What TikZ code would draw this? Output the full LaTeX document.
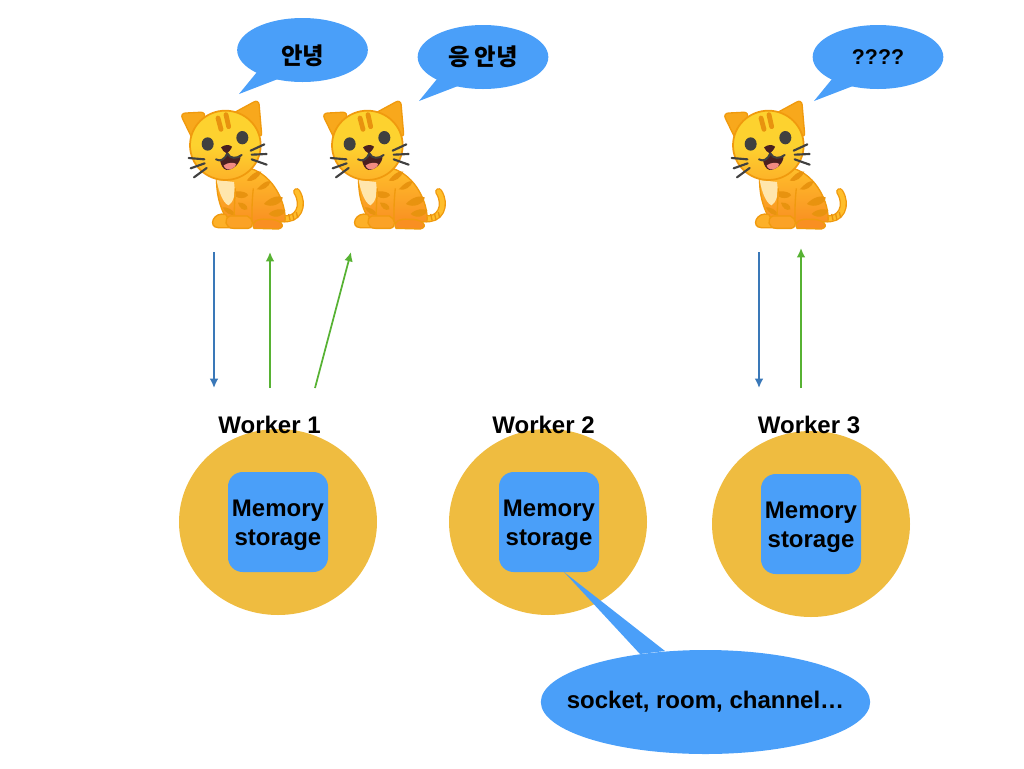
\documentclass[tikz,border=0pt]{standalone}
\usepackage{fontspec}
\setmainfont{Liberation Sans}
\newfontfamily\krfont{Noto Sans CJK KR}
\usetikzlibrary{arrows.meta,calc,positioning,shapes.geometric}
\definecolor{bubbleblue}{HTML}{4A9FF9}
\definecolor{workeryellow}{HTML}{EFBC40}
\definecolor{sendblue}{HTML}{3A78B8}
\definecolor{recvgreen}{HTML}{57B233}
\definecolor{catline}{HTML}{F09A0E}
\definecolor{catear}{HTML}{F8A81C}
\definecolor{cathead}{HTML}{FDD22F}
\definecolor{catbody}{HTML}{FFBE2B}
\definecolor{catlow}{HTML}{F98F22}
\definecolor{catstripe}{HTML}{E8930F}
\definecolor{catchest}{HTML}{FFE6AD}
\definecolor{catdark}{HTML}{404040}
\definecolor{catmouth}{HTML}{4A2020}
\definecolor{cattongue}{HTML}{F28B82}
\tikzset{
  worker/.style={ellipse, fill=workeryellow, minimum width=148.5pt, minimum height=139.5pt, inner sep=0pt},
  workerlabel/.style={font=\fontsize{18}{20}\selectfont\bfseries},
  memory/.style={rectangle, rounded corners=11pt, fill=bubbleblue, minimum size=75pt, inner sep=0pt},
  memtext/.style={align=center, inner sep=0pt, font=\fontsize{18}{21.5}\selectfont\bfseries},
  speech/.style={ellipse, fill=bubbleblue, inner sep=0pt},
  tail/.style={fill=bubbleblue},
  send/.style={draw=sendblue, line width=1.3pt, -{Latex[length=7pt,width=6.5pt]}},
  recv/.style={draw=recvgreen, line width=1.3pt, -{Latex[length=7pt,width=6.5pt]}},
  cat/.pic={
    % coordinates of the cat are in thirds of a pixel
    \begin{scope}[scale=1/3, line join=round]
      % tail
      \draw[catline, line width=5.4pt, line cap=round] (335,385) .. controls (385,395) and (406,345) .. (380,305);
      \draw[catbody, line width=3.4pt, line cap=round] (335,385) .. controls (385,395) and (406,345) .. (380,305);
      \foreach \sx/\sy in {356/372,368/372,379/366}
        \draw[catstripe, line width=1pt] (\sx,\sy) -- ++(4,18);
      % ears
      \draw[catline, line width=1pt, fill=catear, rounded corners=4pt] (30,70) -- (108,66) -- (76,165) -- cycle;
      \draw[catline, line width=1pt, fill=catear, rounded corners=4pt] (185,72) -- (266,28) -- (276,145) -- cycle;
      % body
      \draw[catline, line width=1pt, top color=catbody, bottom color=catlow]
        (140,262) .. controls (138,310) and (150,350) .. (165,378)
        -- (250,400) -- (345,395) .. controls (350,340) and (310,255) .. (240,235) -- cycle;
      % chest
      \fill[catchest] (140,270) -- (192,276) .. controls (197,310) and (192,335) .. (176,346)
        .. controls (158,340) and (145,300) .. (140,270) -- cycle;
      % body stripes
      \fill[catstripe] (230,272) .. controls (245,252) and (262,240) .. (274,245) .. controls (268,262) and (248,278) .. (230,272) -- cycle;
      \fill[catstripe] (260,298) .. controls (275,282) and (290,270) .. (302,274) .. controls (298,290) and (278,304) .. (260,298) -- cycle;
      \fill[catstripe] (282,342) .. controls (298,322) and (325,315) .. (338,322) .. controls (338,340) and (305,356) .. (282,342) -- cycle;
      \fill[catstripe] (296,372) .. controls (312,355) and (335,355) .. (346,362) .. controls (342,378) and (315,388) .. (296,372) -- cycle;
      \fill[catstripe] (198,304) .. controls (215,302) and (234,308) .. (234,316) .. controls (225,328) and (205,325) .. (198,320) -- cycle;
      \fill[catstripe] (204,338) .. controls (220,336) and (234,345) .. (232,358) .. controls (220,364) and (208,354) .. (204,338) -- cycle;
      \fill[catstripe] (158,352) .. controls (172,350) and (190,360) .. (196,374) .. controls (180,378) and (166,368) .. (158,352) -- cycle;
      % legs
      \draw[catline, line width=1pt] (196,295) -- (192,378) (250,295) .. controls (245,340) and (246,370) .. (246,392);
      \draw[catline, line width=1pt, fill=catbody!70!catlow] (168,374) .. controls (130,362) and (112,412) .. (145,413) -- (185,413) -- cycle;
      \draw[catline, line width=1pt, fill=catbody!40!catlow] (180,378) .. controls (160,385) and (165,415) .. (190,415)
        -- (235,415) .. controls (254,411) and (250,385) .. (232,378) -- cycle;
      \draw[catline, line width=1pt, fill=catlow] (252,415) .. controls (240,395) and (265,385) .. (290,388)
        .. controls (330,385) and (352,410) .. (325,417) -- cycle;
      % head
      \draw[catline, line width=1.3pt, top color=cathead, bottom color=catbody!75!catlow, middle color=cathead]
        (166,166) ellipse [x radius=106, y radius=104];
      % forehead stripes
      \draw[catstripe, line width=3.6pt, line cap=round] (144,84) -- (153,118);
      \draw[catstripe, line width=3.6pt, line cap=round] (168,74) -- (176,110);
      % eyes
      \fill[catdark] (113,162) ellipse [x radius=18, y radius=20];
      \fill[catdark] (217,143) ellipse [x radius=18, y radius=20];
      % mouth
      \fill[catmouth] (150,210) .. controls (165,212) and (170,200) .. (172,188)
        .. controls (180,205) and (198,206) .. (212,196)
        .. controls (212,222) and (188,240) .. (170,240) .. controls (158,238) and (152,222) .. (150,210) -- cycle;
      \fill[cattongue] (161,226) .. controls (175,216) and (192,217) .. (199,222)
        .. controls (195,235) and (180,240) .. (172,238) .. controls (166,236) and (162,232) .. (161,226) -- cycle;
      \draw[catdark, line width=1.5pt, line cap=round] (138,208) .. controls (150,216) and (165,208) .. (172,190)
        .. controls (180,207) and (200,207) .. (215,195);
      % nose
      \fill[catmouth] (153,172) .. controls (165,163) and (178,163) .. (186,170)
        .. controls (184,178) and (174,188) .. (170,190) .. controls (164,188) and (156,180) .. (153,172) -- cycle;
      % whiskers
      \draw[catdark, line width=1.6pt, line cap=round]
        (56,204) -- (103,208) (62,235) -- (104,220) (72,262) -- (110,234)
        (242,182) -- (283,163) (245,194) -- (290,192) (245,208) -- (290,224);
    \end{scope}
  }
}
\begin{document}
\begin{tikzpicture}[x=0.75pt, y=-0.75pt]
  \useasboundingbox (0,0) rectangle (1024,768);
  % speech bubbles
  \coordinate (tipa) at (239,94);
  \coordinate (tipb) at (419,101);
  \coordinate (tipc) at (814,101);
  \coordinate (tipd) at (564,572);
  \node[speech, minimum width=98pt, minimum height=48pt, text height=22pt, text depth=0pt] (saya) at (302.5,50) {\fontsize{17.5}{20}\selectfont\krfont\bfseries 안녕};
  \fill[tail] (tipa) -- (257,72) -- (278,79) -- cycle;
  \node[speech, minimum width=98pt, minimum height=48pt] (sayb) at (483,57) {\fontsize{17.5}{20}\selectfont\krfont\bfseries 응 안녕};
  \fill[tail] (tipb) -- (437,79) -- (458,86) -- cycle;
  \node[speech, minimum width=98pt, minimum height=48pt] (sayc) at (878,57) {\fontsize{16}{20}\selectfont\bfseries ????};
  \fill[tail] (tipc) -- (832,79) -- (853,86) -- cycle;
  % cats
  \pic at (170,90) {cat};
  \pic at (312,90) {cat};
  \pic at (713,90) {cat};
  % workers
  \node[worker] (workera) at (278,522) {};
  \node[worker] (workerb) at (548,522) {};
  \node[worker] (workerc) at (811,524) {};
  \node[workerlabel] (labela) at (269.5,425) {Worker 1};
  \node[workerlabel] (labelb) at (543.5,425) {Worker 2};
  \node[workerlabel] (labelc) at (809,425) {Worker 3};
  \node[memory] (mema) at (278,522) {};
  \node[memory] (memb) at (549,522) {};
  \node[memory] (memc) at (811,524) {};
  \node[memtext] (memtexta) at ($(mema)+(0,3)$) {Memory\\storage};
  \node[memtext] (memtextb) at ($(memb)+(0,3)$) {Memory\\storage};
  \node[memtext] (memtextc) at ($(memc)+(0,3)$) {Memory\\storage};
  % note below worker 2
  \fill[tail] (tipd) -- (640,654) -- (665,651) -- cycle;
  \node[speech, inner xsep=-50pt, minimum width=247pt, minimum height=78pt, font=\fontsize{18}{20}\selectfont\bfseries] (note) at (705.5,702) {socket, room, channel…};
  % arrows
  \coordinate (senda) at (214,252);
  \coordinate (sendaend) at (214,388);
  \coordinate (recva) at (270,388);
  \coordinate (recvaend) at (270,252);
  \coordinate (recvb) at (315,388);
  \coordinate (recvbend) at (351,252);
  \coordinate (sendc) at (759,252);
  \coordinate (sendcend) at (759,388);
  \coordinate (recvc) at (801,388);
  \coordinate (recvcend) at (801,248);
  \draw[send] (senda) -- (sendaend);
  \draw[recv] (recva) -- (recvaend);
  \draw[recv] (recvb) -- (recvbend);
  \draw[send] (sendc) -- (sendcend);
  \draw[recv] (recvc) -- (recvcend);
\end{tikzpicture}
\end{document}
